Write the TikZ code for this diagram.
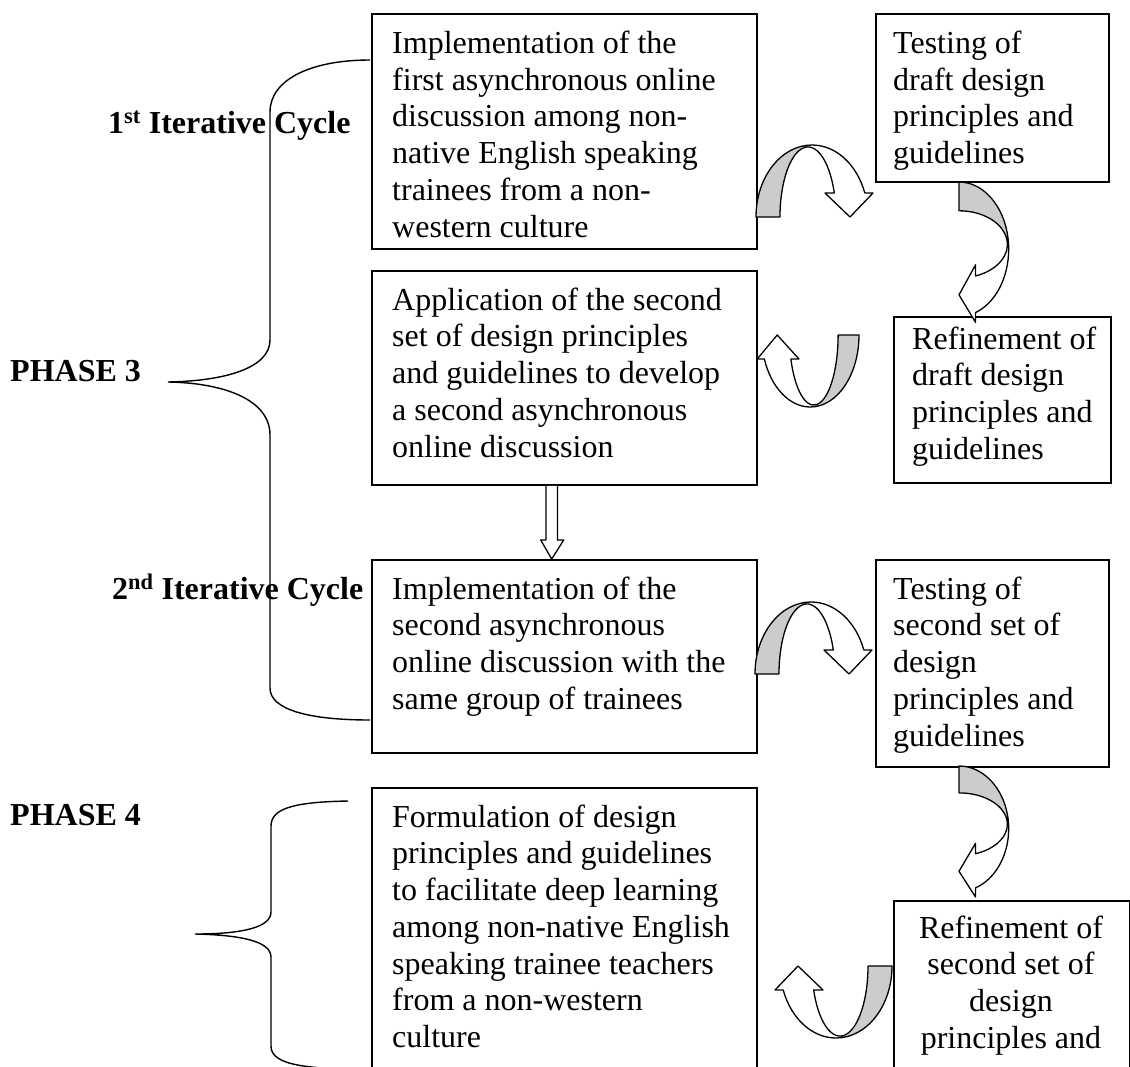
\documentclass[tikz,border=0pt]{standalone}
\usepackage{fontspec}
\setmainfont{Liberation Serif}
\usetikzlibrary{calc}
\definecolor{bandgray}{RGB}{204,204,204}
% first-line strut: every text block hangs 26pt above its first baseline
\newcommand{\topstrut}{\rule{0pt}{26pt}}
\begin{document}
\begin{tikzpicture}[x=1pt,y=1pt,
  stepbox/.style={draw=black, line width=1.8pt, fill=white, rectangle, anchor=north west, inner sep=0pt},
  boxtext/.style={anchor=north west, inner sep=0pt, align=left,
    font=\fontsize{32}{36.7}\selectfont},
  centertext/.style={anchor=north, inner sep=0pt, align=center,
    font=\fontsize{32}{36.7}\selectfont},
  phaselabel/.style={anchor=base west, inner sep=0pt,
    font=\fontsize{32}{36.7}\selectfont\bfseries},
  braceline/.style={draw=black, line width=1.4pt},
  arrowline/.style={draw=black, line width=1.3pt, line join=round},
  bentarrow/.pic={
    % white band running from the foot over the crest to the head
    \path[fill=white] (0,0) arc[start angle=180,end angle=19.5,x radius=56,y radius=72]
      -- (117,24) -- (94,0) -- (69,24) -- (78.3,24)
      arc[start angle=20,end angle=180,x radius=28,y radius=70] -- cycle;
    % shaded underside near the foot
    \path[fill=bandgray] (0,0) arc[start angle=180,end angle=93,x radius=56,y radius=72]
      -- (52,70) arc[start angle=90,end angle=180,x radius=28,y radius=70] -- cycle;
    \path[arrowline] (0,0) arc[start angle=180,end angle=19.5,x radius=56,y radius=72]
      -- (117,24) -- (94,0) -- (69,24) -- (78.3,24)
      arc[start angle=20,end angle=180,x radius=28,y radius=70] -- cycle;
  }]
\useasboundingbox (0,0) rectangle (1130,-1066);
\clip (0,0) rectangle (1130,-1066);

% ---------- boxes ----------
\node[stepbox, minimum width=385, minimum height=235] (A) at (371,-13) {};
\node[stepbox, minimum width=233, minimum height=168] (B) at (875,-13) {};
\node[stepbox, minimum width=385, minimum height=214] (D) at (371,-270) {};
\node[stepbox, minimum width=217, minimum height=166] (C) at (893,-316) {};
\node[stepbox, minimum width=385, minimum height=193] (E) at (371,-559) {};
\node[stepbox, minimum width=233, minimum height=207] (G) at (875,-559) {};
\node[stepbox, minimum width=385, minimum height=300] (F) at (371,-787) {};
\node[stepbox, minimum width=236, minimum height=200] (H) at (893,-900) {};

% ---------- box texts (placed by first baseline minus 26pt) ----------
\node[boxtext] (At) at (392,-27.3) {\topstrut Implementation of the\\first asynchronous online\\discussion among non-\\native English speaking\\trainees from a non-\\western culture};
\node[boxtext] (Bt) at (893,-27.3) {\topstrut Testing of\\draft design\\principles and\\guidelines};
\node[boxtext] (Dt) at (392,-284) {\topstrut Application of the second\\set of design principles\\and guidelines to develop\\a second asynchronous\\online discussion};
\node[boxtext] (Ct) at (912,-323) {\topstrut Refinement of\\draft design\\principles and\\guidelines};
\node[boxtext] (Et) at (392,-573) {\topstrut Implementation of the\\second asynchronous\\online discussion with the\\same group of trainees};
\node[boxtext] (Gt) at (893,-573) {\topstrut Testing of\\second set of\\design\\principles and\\guidelines};
\node[boxtext] (Ft) at (392,-801) {\topstrut Formulation of design\\principles and guidelines\\to facilitate deep learning\\among non-native English\\speaking trainee teachers\\from a non-western\\culture};
\node[centertext] (Ht) at (1011,-912) {\topstrut Refinement of\\second set of\\design\\principles and};

% ---------- left labels ----------
\node[phaselabel] (c1) at (108,-133) {1\textsuperscript{st} Iterative Cycle};
\node[phaselabel] (p3) at (10,-381) {PHASE 3};
\node[phaselabel] (c2) at (112,-599) {2\textsuperscript{nd} Iterative Cycle};
\node[phaselabel] (p4) at (10,-825) {PHASE 4};

% ---------- braces ----------
\draw[braceline] (370,-60) .. controls (310,-60) and (270,-80) .. (270,-112)
  -- (270,-340) .. controls (270,-368) and (225,-381) .. (168,-382)
  .. controls (225,-383) and (270,-400) .. (270,-435)
  -- (270,-688) .. controls (270,-710) and (310,-720) .. (370,-720);
\draw[braceline] (348,-801) .. controls (295,-802) and (271,-808) .. (271,-826)
  -- (271,-912) .. controls (271,-928) and (240,-934) .. (195,-934)
  .. controls (240,-935) and (271,-941) .. (271,-957)
  -- (271,-1046) .. controls (271,-1062) and (295,-1068) .. (348,-1069);

% ---------- curved block arrows ----------
\pic (arr1) at (756,-217) {bentarrow};
\pic[rotate=-90, xscale=1.2, yscale=0.69] (arr2) at (959,-182) {bentarrow};
\pic[rotate=180, xscale=0.87] (arr3) at (859,-335) {bentarrow};
\pic (arr4) at (755,-674) {bentarrow};
\pic[rotate=-90, xscale=1.12, yscale=0.69] (arr5) at (959,-766) {bentarrow};
\pic[rotate=180] (arr6) at (892,-966) {bentarrow};

% ---------- straight block arrow from D to E ----------
\coordinate (vs) at ($(D.south west)+(180.7,0)$);
\coordinate (ve) at ($(E.north west)+(180.7,0)$);
\path[arrowline, fill=white] ($(vs)+(-5.7,0)$) -- ($(ve)+(-5.7,19)$) -- ($(ve)+(-11,19)$)
  -- (ve) -- ($(ve)+(12,19)$) -- ($(ve)+(5.7,19)$) -- ($(vs)+(5.7,0)$);
\end{tikzpicture}
\end{document}
